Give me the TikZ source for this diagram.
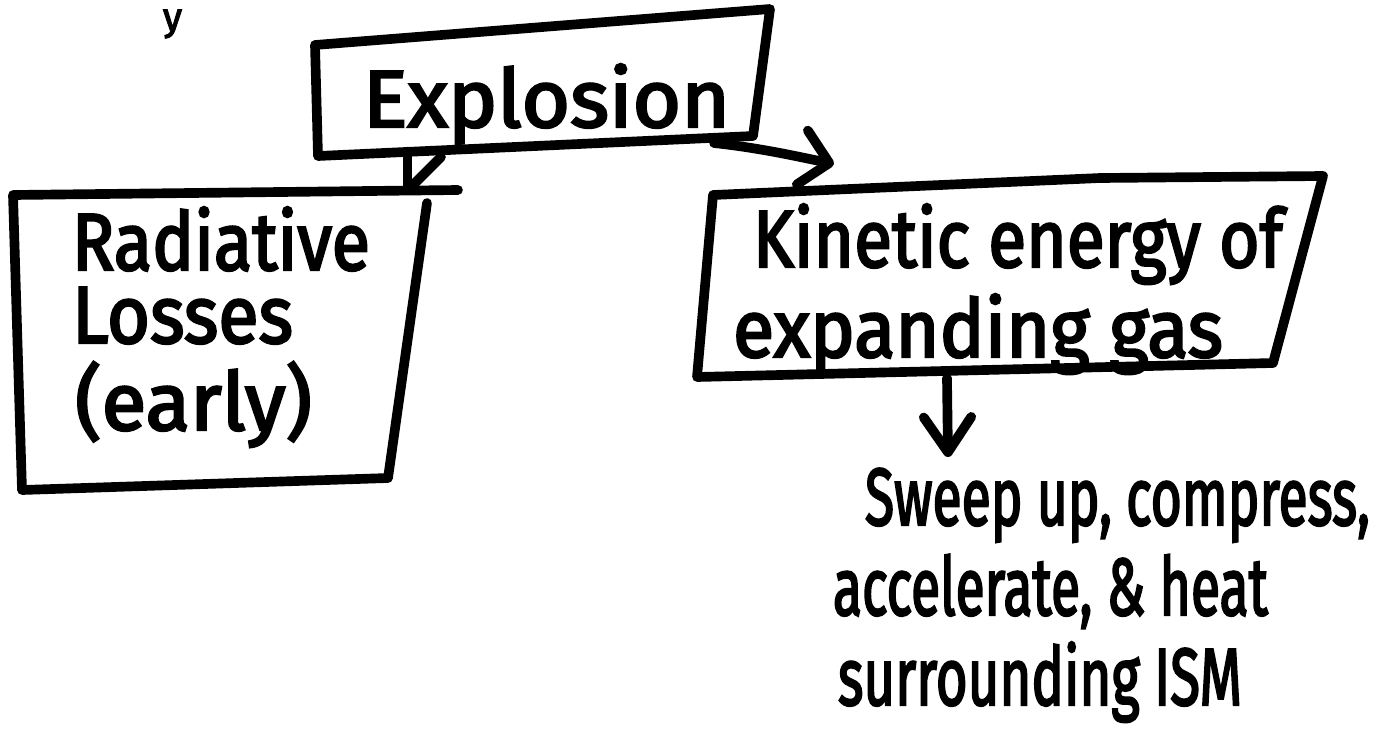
\documentclass[tikz,border=0pt]{standalone}
\usepackage{fontspec}
\setmainfont{Fira Sans}[FakeBold=3]
\usetikzlibrary{arrows.meta}
% stretch a line of text to a given width, keeping its natural height
\newcommand\hw[2]{\resizebox{#1}{\height}{#2}}
\begin{document}
\begin{tikzpicture}[x=0.02cm,y=-0.02cm,
  marker/.style={line width=5.5pt,line cap=round,line join=round},
  hand/.style={inner sep=0pt,outer sep=0pt,anchor=base west,
    font=\fontsize{46}{50}\selectfont},
  barb/.style={marker,-{Straight Barb[length=0.55cm,width=1.1cm,round]}},
  downbarb/.style={marker,-{Straight Barb[length=0.7cm,width=0.95cm,round]}}]
\useasboundingbox (0,0) rectangle (1383,748);
\clip (0,0) rectangle (1383,748);

% tail of a word at the top edge
\node[hand,anchor=base east,font=\fontsize{22}{24}\selectfont] (frag) at (182,30) {y};

% Explosion box
\coordinate (e-tl) at (315,45);
\coordinate (e-tr) at (770,9);
\coordinate (e-br) at (753,136);
\coordinate (e-bl) at (318,156);
\draw[marker] (e-tl) -- (e-tr) -- (e-br) -- (e-bl) -- cycle;
\node[hand] (expl) at (363,127) {\hw{7.34cm}{Explosion}};
\coordinate (e-out1) at (441,157);
\coordinate (e-out2) at (714,143);

% Radiative losses box
\coordinate (r-tl) at (13,195);
\coordinate (r-tx) at (458,190);
\coordinate (r-tr) at (427,203);
\coordinate (r-br) at (388,478);
\coordinate (r-bl) at (22,490);
\draw[marker] (r-tx) -- (r-tl) -- (r-bl) -- (r-br) -- (r-tr);
\node[hand] (rad1) at (72,270) {\hw{5.96cm}{Radiative}};
\node[hand] (rad2) at (72,343) {\hw{4.42cm}{Losses}};
\node[hand] (rad3) at (75,430) {\hw{4.74cm}{(early)}};
\coordinate (r-in) at (404,194);

% Kinetic energy box
\coordinate (k-tl) at (713,195);
\coordinate (k-tm) at (1100,178);
\coordinate (k-tr) at (1323,176);
\coordinate (k-br) at (1273,363);
\coordinate (k-bl) at (697,377);
\draw[marker] (k-tl) -- (k-tm) -- (k-tr) -- (k-br) -- (k-bl) -- cycle;
\node[hand] (kin1) at (753,267) {\hw{10.6cm}{Kinetic energy of}};
\node[hand] (kin2) at (733,357) {\hw{9.8cm}{expanding gas}};
\coordinate (k-in) at (834,164);
\coordinate (k-out) at (947,378);

% what the kinetic energy does
\node[hand] (sw1) at (865,525) {\hw{10.1cm}{Sweep up, compress,}};
\node[hand] (sw2) at (833,615) {\hw{8.7cm}{accelerate, \& heat}};
\node[hand] (sw3) at (838,705) {\hw{8.08cm}{surrounding ISM}};
\coordinate (s-in) at (948,457);

% connectors
\draw[barb] (e-out1) -- (r-in);
\draw[barb] (e-out2) .. controls (760,148) and (795,156) .. (k-in);
\draw[downbarb] (k-out) -- (s-in);
\end{tikzpicture}
\end{document}
